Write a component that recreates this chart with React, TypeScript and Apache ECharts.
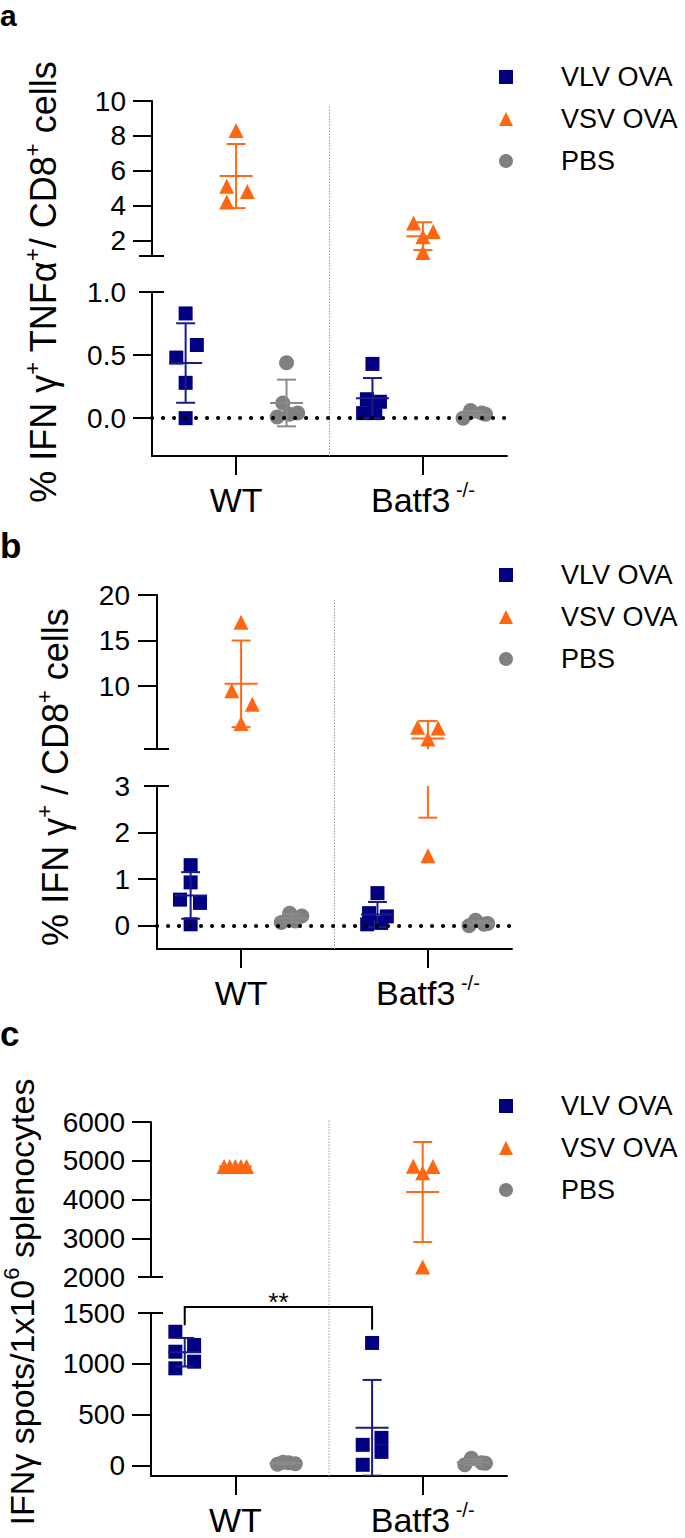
import React, { useEffect, useRef } from 'react';
import * as echarts from 'echarts';

const FONT = '"Liberation Sans", Arial, Helvetica, sans-serif';

// ---------- shared categories ----------
const GROUPS = ['WT', 'Batf3'];
const GROUP_SUPERSCRIPTS = ['', '-/-'];
const TREATMENTS = ['VLV OVA', 'VSV OVA', 'PBS'];
const TREATMENT_SYMBOLS = ['rect', 'triangle', 'circle'];
const TREATMENT_OFFSETS = [-0.27, 0, 0.27]; // dodge of each treatment inside a group (x units)
const GROUP_BOUNDARY = 0.5;
const X_RANGE = [-0.45, 1.45];

// ---------- panel a : % IFNg+ TNFa+ / CD8+ ----------
// values are [WT, Batf3]
const A_VLV = [[0.83, 0.58, 0.48, 0.28, 0.0], [0.43, 0.15, 0.13, 0.04, 0.04]];
const A_VLV_JIT = [[0, 0.06, -0.05, 0, 0], [0, -0.03, 0.04, -0.05, 0.015]];
const A_VSV = [[8.3, 5.1, 4.8, 4.2], [3.0, 2.5, 2.2, 1.3]];
const A_VSV_JIT = [[0, -0.05, 0.06, -0.05], [-0.05, 0.055, 0, 0]];
const A_PBS = [[0.44, 0.12, 0.01, 0.03, 0.04], [0.0, 0.06, 0.04, 0.03]];
const A_PBS_JIT = [[0, -0.02, -0.05, 0.015, 0.06], [-0.055, -0.015, 0.045, 0.065]];
const A_MEAN = [[0.437, 5.69, 0.12], [0.158, 2.24, 0.03]]; // [group][treatment]
const A_SD = [[0.315, 1.84, 0.185], [0.16, 0.8, 0.025]];
const A_TOP_RANGE = [1.1, 10];
const A_TOP_TICKS = [2, 4, 6, 8, 10];
const A_BOT_RANGE = [-0.3, 1.0];
const A_BOT_TICKS = [0, 0.5, 1.0];

// ---------- panel b : % IFNg+ / CD8+ ----------
const B_VLV = [[1.3, 0.93, 0.56, 0.49, 0.03], [0.7, 0.27, 0.2, 0.03, 0.06]];
const B_VLV_JIT = [[0, 0, -0.057, 0.05, 0], [0, -0.045, 0.05, -0.055, 0.02]];
const B_VSV = [[17.0, 9.5, 8.0, 5.9], [5.5, 5.4, 4.2, 1.5]];
const B_VSV_JIT = [[0, -0.05, 0.06, 0], [-0.055, 0.055, 0, 0]];
const B_PBS = [[0.07, 0.27, 0.21, 0.1], [0.0, 0.12, 0.05, 0.03]];
const B_PBS_JIT = [[-0.055, -0.01, 0.055, 0.02], [-0.05, -0.015, 0.05, 0.03]];
const B_MEAN = [[0.65, 10.25, 0.16], [0.24, 4.25, 0.05]];
const B_SD = [[0.5, 4.75, 0.09], [0.27, 1.93, 0.05]];
const B_TOP_RANGE = [3.1, 20];
const B_TOP_TICKS = [10, 15, 20];
const B_BOT_RANGE = [-0.5, 3];
const B_BOT_TICKS = [0, 1, 2, 3];

// ---------- panel c : IFNg spots / 1x10^6 splenocytes ----------
const C_VLV = [[1316, 1120, 957, 1186, 1022], [1206, 206, 274, 137, 10]];
const C_VLV_JIT = [[-0.05, -0.05, -0.05, 0.05, 0.05], [0, -0.05, 0.05, 0.05, -0.05]];
const C_VSV = [[4850, 4850, 4850, 4850, 4850], [4860, 4850, 4690, 2260]];
const C_VSV_JIT = [[-0.06, -0.03, 0, 0.03, 0.06], [-0.05, 0.055, 0, 0]];
const C_PBS = [[15, 35, 30, 20], [10, 75, 30, 25]];
const C_PBS_JIT = [[-0.045, -0.015, 0.015, 0.05], [-0.045, -0.01, 0.045, 0.065]];
const C_MEAN = [[1115, 4850, 25], [373, 4194, 35]];
const C_SD = [[140, 0, 9], [470, 1290, 28]];
const C_TOP_RANGE = [2000, 6000];
const C_TOP_TICKS = [2000, 3000, 4000, 5000, 6000];
const C_BOT_RANGE = [-100, 1500];
const C_BOT_TICKS = [0, 500, 1000, 1500];
// significance bracket (VLV OVA WT vs VLV OVA Batf3)
const C_SIG_GROUPS = [0, 1];
const C_SIG_Y = 1560;
const C_SIG_ENDS = [1380, 1335];
const C_SIG_LABEL = '**';

// ---------- titles ----------
const TITLE_A = '{n|% IFN γ}{s|+}{n| TNFα}{s|+}{n|/ CD8}{s|+}{n| cells}';
const TITLE_B = '{n|% IFN γ}{s|+}{n| / CD8}{s|+}{n| cells}';
const TITLE_C = '{n|IFNγ spots/1x10}{s|6}{n| splenocytes}';

// ---------- styles ----------
const MARKER_COLORS = ['#000080', '#ff6611', '#808080'];
const BAR_COLORS = ['#1a1a8e', '#ff6a1a', '#8a8a8a'];
const MARKER_SIZES = [14, 15, 15];

const PANELS = [
  {
    letter: 'a', title: TITLE_A, titleSize: 36,
    values: [A_VLV, A_VSV, A_PBS], jitter: [A_VLV_JIT, A_VSV_JIT, A_PBS_JIT],
    mean: A_MEAN, sd: A_SD,
    topRange: A_TOP_RANGE, topTicks: A_TOP_TICKS, topDec: 0,
    botRange: A_BOT_RANGE, botTicks: A_BOT_TICKS, botDec: 1,
    zeroLine: true, sig: false,
  },
  {
    letter: 'b', title: TITLE_B, titleSize: 36,
    values: [B_VLV, B_VSV, B_PBS], jitter: [B_VLV_JIT, B_VSV_JIT, B_PBS_JIT],
    mean: B_MEAN, sd: B_SD,
    topRange: B_TOP_RANGE, topTicks: B_TOP_TICKS, topDec: 0,
    botRange: B_BOT_RANGE, botTicks: B_BOT_TICKS, botDec: 0,
    zeroLine: true, sig: false,
  },
  {
    letter: 'c', title: TITLE_C, titleSize: 34,
    values: [C_VLV, C_VSV, C_PBS], jitter: [C_VLV_JIT, C_VSV_JIT, C_PBS_JIT],
    mean: C_MEAN, sd: C_SD,
    topRange: C_TOP_RANGE, topTicks: C_TOP_TICKS, topDec: 0,
    botRange: C_BOT_RANGE, botTicks: C_BOT_TICKS, botDec: 0,
    zeroLine: false, sig: true,
  },
];

// pixel layout of each panel
const LAYOUT = [
  { left: 152, width: 355, top: 101, topH: 155, botTop: 292, botH: 164, divTop: 105, labelMargin: 26, letterY: 0, letterSize: 30, letterAlign: 'top', titleX: 43, titleY: 282, legendTop: 63.5 },
  { left: 157, width: 355, top: 595, topH: 154, botTop: 786, botH: 163, divTop: 600, labelMargin: 27, letterY: 545, letterSize: 35, letterAlign: 'middle', titleX: 55, titleY: 777, legendTop: 561.5 },
  { left: 151, width: 356, top: 1122, topH: 155, botTop: 1313, botH: 163, divTop: 1120, labelMargin: 26, letterY: 1033, letterSize: 35, letterAlign: 'middle', titleX: 22, titleY: 1302, legendTop: 1092.5 },
];

const AXIS_LINE = { color: '#000', width: 2 };

function errorBarRenderer(color: string) {
  return (params: any, api: any) => {
    const x = api.value(0);
    const m = api.value(1);
    const s = api.value(2);
    const c = api.coord([x, m]);
    const hi = api.coord([x, m + s]);
    const lo = api.coord([x, m - s]);
    const st = { stroke: color, lineWidth: 2 };
    return {
      type: 'group',
      children: [
        { type: 'line', shape: { x1: c[0] - 16.5, y1: c[1], x2: c[0] + 16.5, y2: c[1] }, style: st },
        { type: 'line', shape: { x1: c[0], y1: hi[1], x2: c[0], y2: lo[1] }, style: st },
        { type: 'line', shape: { x1: c[0] - 9.5, y1: hi[1], x2: c[0] + 9.5, y2: hi[1] }, style: st },
        { type: 'line', shape: { x1: c[0] - 9.5, y1: lo[1], x2: c[0] + 9.5, y2: lo[1] }, style: st },
      ],
    };
  };
}

function buildOption() {
  const grid: any[] = [];
  const xAxis: any[] = [];
  const yAxis: any[] = [];
  const scatterSeries: any[] = [];
  const otherSeries: any[] = [];
  const graphic: any[] = [];
  const legend: any[] = [];

  PANELS.forEach((p, pi) => {
    const L = LAYOUT[pi];
    const segs = [
      { top: L.top, height: L.topH, range: p.topRange, ticks: p.topTicks, cross: p.topRange[0], dec: p.topDec, isBottom: false },
      { top: L.botTop, height: L.botH, range: p.botRange, ticks: p.botTicks, cross: p.botRange[1], dec: p.botDec, isBottom: true },
    ];

    segs.forEach((seg) => {
      const gi = grid.length;
      grid.push({ left: L.left, top: seg.top, width: L.width, height: seg.height, outerBoundsMode: 'none' });
      const xi = xAxis.length;
      xAxis.push({
        gridIndex: gi,
        type: 'value',
        min: X_RANGE[0],
        max: X_RANGE[1],
        show: seg.isBottom,
        position: 'bottom',
        axisLine: { show: true, onZero: false, lineStyle: AXIS_LINE },
        axisTick: { show: true, length: 19, lineStyle: AXIS_LINE, customValues: GROUPS.map((_, g) => g) },
        axisLabel: {
          show: true,
          customValues: GROUPS.map((_, g) => g),
          margin: 24,
          formatter: (v: number) => {
            const i = Math.round(v);
            const sup = GROUP_SUPERSCRIPTS[i];
            return sup ? `{n|${GROUPS[i]}}{s| ${sup}}` : `{n|${GROUPS[i]}}`;
          },
          rich: {
            n: { fontSize: 34, lineHeight: 40, fontFamily: FONT, color: '#000' },
            s: { fontSize: 20, lineHeight: 20, verticalAlign: 'top', fontFamily: FONT, color: '#000' },
          },
        },
        splitLine: { show: false },
      });
      const yi = yAxis.length;
      yAxis.push({
        gridIndex: gi,
        type: 'value',
        min: seg.range[0],
        max: seg.range[1],
        position: 'left',
        axisLine: { show: true, onZero: false, lineStyle: AXIS_LINE },
        axisTick: { show: true, length: 19, lineStyle: AXIS_LINE, customValues: seg.ticks.filter((t) => t !== seg.cross) },
        axisLabel: {
          show: true,
          customValues: seg.ticks,
          margin: L.labelMargin,
          fontSize: 28,
          fontFamily: FONT,
          color: '#000',
          formatter: (v: number) => v.toFixed(seg.dec),
        },
        splitLine: { show: false },
      });
      // break marks: ticks crossing the axis
      [false, true].forEach((inside) => {
        yAxis.push({
          gridIndex: gi,
          type: 'value',
          min: seg.range[0],
          max: seg.range[1],
          position: 'left',
          offset: 0,
          axisLine: { show: false, onZero: false },
          axisTick: { show: true, inside, length: inside ? 12 : 13, lineStyle: AXIS_LINE, customValues: [seg.cross] },
          axisLabel: { show: false },
          splitLine: { show: false },
        });
      });

      TREATMENTS.forEach((name, t) => {
        const pts: number[][] = [];
        GROUPS.forEach((_, g) => {
          p.values[t][g].forEach((v: number, k: number) => {
            pts.push([g + TREATMENT_OFFSETS[t] + p.jitter[t][g][k], v]);
          });
        });
        const segPts = seg.isBottom ? pts.filter((q) => q[1] <= seg.range[1]) : pts.filter((q) => q[1] >= seg.range[0]);
        scatterSeries.push({
          type: 'scatter',
          name,
          xAxisIndex: xi,
          yAxisIndex: yi,
          data: segPts,
          symbol: TREATMENT_SYMBOLS[t],
          symbolSize: MARKER_SIZES[t],
          itemStyle: { color: MARKER_COLORS[t], opacity: 1 },
          clip: false,
          z: 3,
          silent: true,
        });
        otherSeries.push({
          type: 'custom',
          name: name + ' mean ± SD',
          xAxisIndex: xi,
          yAxisIndex: yi,
          data: GROUPS.map((_, g) => [g + TREATMENT_OFFSETS[t], p.mean[g][t], p.sd[g][t]]),
          encode: { x: 0, y: 1 },
          renderItem: errorBarRenderer(BAR_COLORS[t]),
          clip: true,
          z: 4,
          silent: true,
        });
      });

      if (seg.isBottom && p.zeroLine) {
        otherSeries.push({
          type: 'line',
          name: 'zero',
          xAxisIndex: xi,
          yAxisIndex: yi,
          data: [],
          z: 2,
          silent: true,
          markLine: {
            silent: true,
            symbol: ['none', 'none'],
            label: { show: false },
            lineStyle: { color: '#000', width: 4, type: [0.1, 10.9], cap: 'round' },
            data: [{ yAxis: 0 }],
          },
        });
      }

      if (seg.isBottom && p.sig) {
        otherSeries.push({
          type: 'custom',
          name: 'significance',
          xAxisIndex: xi,
          yAxisIndex: yi,
          data: [[C_SIG_GROUPS[0] + TREATMENT_OFFSETS[0], C_SIG_GROUPS[1] + TREATMENT_OFFSETS[0], C_SIG_Y, C_SIG_ENDS[0], C_SIG_ENDS[1]]],
          clip: false,
          z: 5,
          silent: true,
          renderItem: (params: any, api: any) => {
            const x1 = api.value(0);
            const x2 = api.value(1);
            const y = api.value(2);
            const p1 = api.coord([x1, api.value(3)]);
            const p2 = api.coord([x1, y]);
            const p3 = api.coord([x2, y]);
            const p4 = api.coord([x2, api.value(4)]);
            return {
              type: 'group',
              children: [
                { type: 'polyline', shape: { points: [p1, p2, p3, p4] }, style: { stroke: '#000', lineWidth: 2, fill: 'none' } },
                {
                  type: 'text',
                  x: (p2[0] + p3[0]) / 2,
                  y: p2[1] - 5,
                  style: { text: C_SIG_LABEL, fill: '#000', font: `26px ${FONT}`, align: 'center', verticalAlign: 'middle' },
                },
              ],
            };
          },
        });
      }
    });

    // overlay grid for the group divider (spans the axis break)
    const gi = grid.length;
    grid.push({ left: L.left, top: L.divTop, width: L.width, height: L.botTop + L.botH - L.divTop, outerBoundsMode: 'none' });
    const xi = xAxis.length;
    xAxis.push({ gridIndex: gi, type: 'value', min: X_RANGE[0], max: X_RANGE[1], show: false });
    const yi = yAxis.length;
    yAxis.push({ gridIndex: gi, type: 'value', min: 0, max: 1, show: false });
    otherSeries.push({
      type: 'line',
      name: 'divider',
      xAxisIndex: xi,
      yAxisIndex: yi,
      data: [[GROUP_BOUNDARY, 0], [GROUP_BOUNDARY, 1]],
      symbol: 'none',
      lineStyle: { color: '#9a9a9a', width: 1, type: [1.5, 1.5] },
      z: 1,
      silent: true,
    });

    legend.push({
      orient: 'vertical',
      left: 499,
      top: L.legendTop,
      padding: 0,
      itemWidth: 14,
      itemHeight: 14,
      itemGap: 15,
      selectedMode: false,
      data: TREATMENTS.map((name, t) => ({ name, icon: TREATMENT_SYMBOLS[t] })),
      textStyle: { fontSize: 27, fontFamily: FONT, color: '#000', padding: [0, 0, 0, 43] },
    });

    graphic.push({
      type: 'text',
      x: 0,
      y: L.letterY,
      style: {
        text: p.letter,
        font: `bold ${L.letterSize}px ${FONT}`,
        fill: '#000',
        align: 'left',
        verticalAlign: L.letterAlign,
      },
    });
    graphic.push({
      type: 'text',
      x: L.titleX,
      y: L.titleY,
      rotation: Math.PI / 2,
      style: {
        text: p.title,
        fill: '#000',
        font: `${p.titleSize}px ${FONT}`,
        align: 'center',
        verticalAlign: 'middle',
        rich: {
          n: { fontSize: p.titleSize, lineHeight: 44, fontFamily: FONT, fill: '#000' },
          s: { fontSize: 22, lineHeight: 22, verticalAlign: 'top', fontFamily: FONT, fill: '#000' },
        },
      },
    });
  });

  return {
    animation: false,
    backgroundColor: '#fff',
    grid,
    xAxis,
    yAxis,
    legend,
    graphic,
    series: [...scatterSeries, ...otherSeries],
  };
}

export default function App() {
  const ref = useRef<HTMLDivElement>(null);
  useEffect(() => {
    if (!ref.current) return;
    const chart = echarts.init(ref.current, undefined, { renderer: 'svg' });
    chart.setOption(buildOption() as any);
    return () => chart.dispose();
  }, []);
  return (
    <div
      ref={ref}
      style={{ position: 'absolute', left: 0, top: 0, width: 685, height: 1538, background: '#fff' }}
    />
  );
}
